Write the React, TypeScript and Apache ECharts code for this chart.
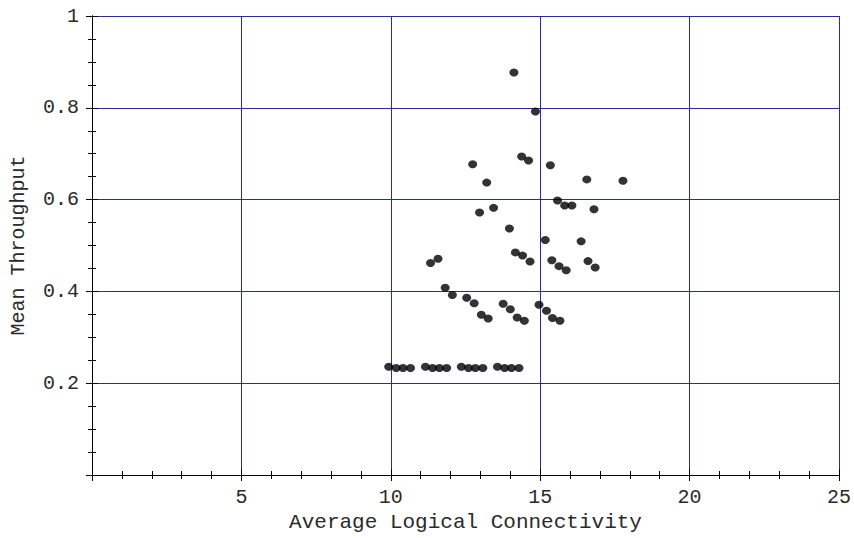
import React, { useEffect, useRef } from "react";
import * as echarts from "echarts";

const xValues: number[] = [
  14.12, 14.84,
  12.74, 13.21, 14.38, 14.61, 15.34, 16.56, 17.77,
  15.58, 12.97, 13.44, 15.82, 16.06, 16.8,
  13.97, 15.17, 16.37,
  11.33, 11.58, 14.17, 14.41, 14.66, 15.39, 15.63, 15.87, 16.6, 16.84,
  11.82, 12.06, 12.54, 12.79, 13.03, 13.26, 13.76, 14.0, 14.23, 14.47, 14.96, 15.21, 15.41, 15.66,
  9.93, 10.18, 10.41, 10.66, 11.16, 11.4, 11.63, 11.87, 12.36, 12.6, 12.83, 13.08, 13.57, 13.81, 14.04, 14.29,
];
const yValues: number[] = [
  0.877, 0.792,
  0.677, 0.637, 0.694, 0.685, 0.675, 0.644, 0.641,
  0.598, 0.572, 0.582, 0.587, 0.587, 0.579,
  0.537, 0.512, 0.509,
  0.462, 0.471, 0.485, 0.478, 0.465, 0.468, 0.455, 0.446, 0.466, 0.452,
  0.408, 0.392, 0.386, 0.374, 0.349, 0.341, 0.373, 0.361, 0.343, 0.336, 0.371, 0.358, 0.342, 0.336,
  0.236, 0.233, 0.233, 0.233, 0.236, 0.233, 0.233, 0.233, 0.236, 0.233, 0.233, 0.233, 0.236, 0.233, 0.233, 0.233,
];
const xTicks = { min: 0, max: 25, interval: 5 };
const yTicks = { min: 0, max: 1, interval: 0.2 };
const xTitle = "Average Logical Connectivity";
const yTitle = "Mean Throughput";

const FONT = "'Courier New', 'Liberation Mono', monospace";
const GRID_COLOR = "#2a2a9c";

export default function App() {
  const ref = useRef<HTMLDivElement>(null);
  useEffect(() => {
    if (!ref.current) return;
    const chart = echarts.init(ref.current, undefined, { renderer: "svg" });
    const points = xValues.map((x, i) => [x, yValues[i]]);
    const labelStyle = { color: "#2a2a2a", fontFamily: FONT, fontSize: 20 };
    const baseX = {
      type: "value" as const,
      min: xTicks.min,
      max: xTicks.max,
      interval: xTicks.interval,
      axisLine: { show: true, lineStyle: { color: "#000", width: 1 } },
      axisTick: { show: true, inside: true, length: 6, lineStyle: { color: "#000" } },
      minorTick: { show: true, splitNumber: 5, length: 4, lineStyle: { color: "#000" } },
    };
    const baseY = {
      type: "value" as const,
      min: yTicks.min,
      max: yTicks.max,
      interval: yTicks.interval,
      axisLine: { show: true, lineStyle: { color: "#000", width: 1 } },
      axisTick: { show: true, inside: true, length: 6, lineStyle: { color: "#000" } },
      minorTick: { show: true, splitNumber: 4, length: 4, lineStyle: { color: "#000" } },
    };
    chart.setOption({
      animation: false,
      backgroundColor: "#fff",
      grid: { left: 92, right: 14, top: 16, bottom: 60 },
      xAxis: [
        {
          ...baseX,
          position: "bottom",
          name: xTitle,
          nameLocation: "middle",
          nameGap: 37,
          nameTextStyle: { ...labelStyle, fontSize: 21 },
          axisLabel: {
            ...labelStyle,
            margin: 12,
            formatter: (v: number) => (v === 0 ? "" : String(v)),
          },
          splitLine: { show: true, lineStyle: { color: GRID_COLOR, width: 1 } },
        },
        {
          ...baseX,
          position: "top",
          axisLabel: { show: false },
          splitLine: { show: false },
        },
      ],
      yAxis: [
        {
          ...baseY,
          position: "left",
          name: yTitle,
          nameLocation: "middle",
          nameGap: 64,
          nameTextStyle: labelStyle,
          axisLabel: {
            ...labelStyle,
            margin: 13,
            formatter: (v: number) => (v === 0 ? "" : v === 1 ? "1" : v.toFixed(1)),
          },
          splitLine: { show: true, lineStyle: { color: GRID_COLOR, width: 1 } },
        },
        {
          ...baseY,
          position: "right",
          axisLabel: { show: false },
          splitLine: { show: false },
        },
      ],
      series: [
        {
          type: "scatter",
          data: points,
          symbol: "circle",
          symbolSize: [9, 8],
          itemStyle: { color: "#000" },
          z: 5,
        },
      ],
    });
    return () => chart.dispose();
  }, []);
  return <div ref={ref} style={{ width: 854, height: 538, position: "absolute", left: 0, top: 0 }} />;
}
